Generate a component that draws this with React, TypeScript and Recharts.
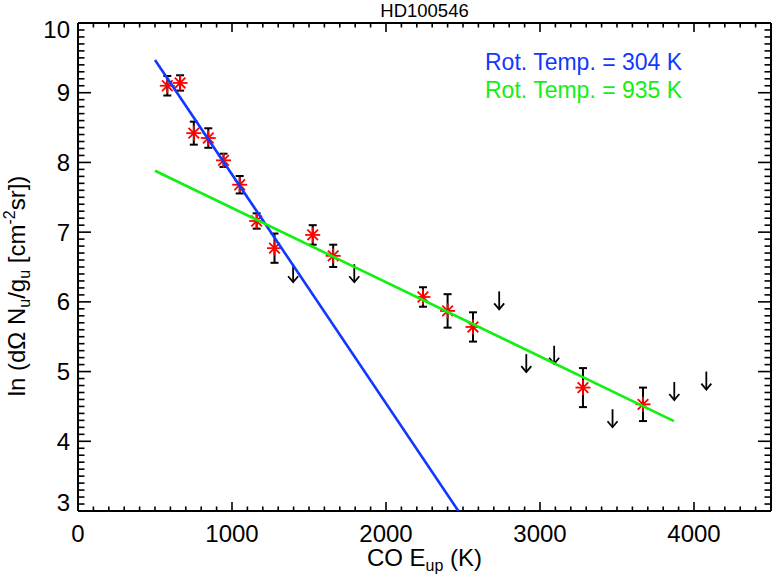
import React from 'react';
import { ScatterChart, Scatter, XAxis, YAxis, ErrorBar } from 'recharts';

const FONT = '"Liberation Sans", Arial, Helvetica, sans-serif';
const BLUE = '#1238ff';
const GREEN = '#12f012';
const RED = '#ff0000';

// Detected CO lines: upper-level energy (K), ln(dΩ Nu/gu), 1σ error
const detectionEup = [580, 663, 752, 846, 945, 1050, 1160, 1276, 1524, 1657, 2240, 2400, 2565, 3279, 3669];
const detectionLnN = [9.1, 9.14, 8.42, 8.35, 8.03, 7.68, 7.16, 6.77, 6.96, 6.66, 6.07, 5.87, 5.64, 4.77, 4.53];
const detectionErr = [0.14, 0.11, 0.165, 0.14, 0.095, 0.125, 0.11, 0.21, 0.14, 0.16, 0.14, 0.24, 0.21, 0.28, 0.24];

// Upper limits
const upperLimitEup = [1397, 1794, 2735, 2911, 3092, 3471, 3872, 4080];
const upperLimitLnN = [6.54, 6.54, 6.15, 5.25, 5.37, 4.46, 4.85, 5.0];

// Rotational-diagram fits
const coldFitEup = [500, 2470];
const coldFitLnN = [9.47, 3.0];
const warmFitEup = [500, 3870];
const warmFitLnN = [7.88, 4.29];

const title = 'HD100546';
const coldLabel = 'Rot. Temp. = 304 K';
const warmLabel = 'Rot. Temp. = 935 K';

const xDomain = [0, 4500];
const yDomain = [3, 10];
const xMajorTicks = [0, 1000, 2000, 3000, 4000];
const yMajorTicks = [3, 4, 5, 6, 7, 8, 9, 10];
const xMinorCount = 45; // every 100 K
const yMinorCount = 70; // every 0.1

const xAllTicks = Array.from({ length: xMinorCount + 1 }, (_, i) => i * 100);
const yAllTicks = Array.from({ length: yMinorCount + 1 }, (_, i) => Math.round(30 + i) / 10);

const detections = detectionEup.map((x, i) => ({ x, y: detectionLnN[i], err: detectionErr[i] }));
const upperLimits = upperLimitEup.map((x, i) => ({ x, y: upperLimitLnN[i] }));
const coldFit = coldFitEup.map((x, i) => ({ x, y: coldFitLnN[i] }));
const warmFit = warmFitEup.map((x, i) => ({ x, y: warmFitLnN[i] }));

const isMajor = (v: number, majors: number[]) => majors.some((m) => Math.abs(m - v) < 1e-6);

const TICK_W = 1.6;

const BottomTick = (props: any) => {
  const { x, y, payload } = props;
  const major = isMajor(payload.value, xMajorTicks);
  return (
    <g>
      <line x1={x} x2={x} y1={y} y2={y - (major ? 9 : 4.5)} stroke="#000" strokeWidth={TICK_W} />
      {major && (
        <text x={x} y={y + 31} textAnchor="middle" fontSize={24} fontFamily={FONT} fill="#000">
          {payload.value}
        </text>
      )}
    </g>
  );
};

const TopTick = (props: any) => {
  const { x, y, payload } = props;
  const major = isMajor(payload.value, xMajorTicks);
  return <line x1={x} x2={x} y1={y} y2={y + (major ? 9 : 4.5)} stroke="#000" strokeWidth={TICK_W} />;
};

const LeftTick = (props: any) => {
  const { x, y, payload } = props;
  const v = payload.value;
  const major = isMajor(v, yMajorTicks);
  let dy = 8.5;
  if (Math.abs(v - yDomain[1]) < 1e-6) dy = 15;
  if (Math.abs(v - yDomain[0]) < 1e-6) dy = 0;
  return (
    <g>
      <line x1={x} x2={x + (major ? 13 : 6.5)} y1={y} y2={y} stroke="#000" strokeWidth={TICK_W} />
      {major && (
        <text x={x - 8} y={y + dy} textAnchor="end" fontSize={24} fontFamily={FONT} fill="#000">
          {v}
        </text>
      )}
    </g>
  );
};

const RightTick = (props: any) => {
  const { x, y, payload } = props;
  const major = isMajor(payload.value, yMajorTicks);
  return <line x1={x} x2={x - (major ? 13 : 6.5)} y1={y} y2={y} stroke="#000" strokeWidth={TICK_W} />;
};

const Star = (props: any) => {
  const { cx, cy } = props;
  const r = 7.5;
  const d = r * 0.7071;
  return (
    <g stroke={RED} strokeWidth={1.8}>
      <line x1={cx - r} y1={cy} x2={cx + r} y2={cy} />
      <line x1={cx} y1={cy - r} x2={cx} y2={cy + r} />
      <line x1={cx - d} y1={cy - d} x2={cx + d} y2={cy + d} />
      <line x1={cx - d} y1={cy + d} x2={cx + d} y2={cy - d} />
    </g>
  );
};

const DownArrow = (props: any) => {
  const { cx, cy } = props;
  const len = 18;
  return (
    <g stroke="#000" strokeWidth={1.8} fill="none">
      <line x1={cx} y1={cy} x2={cx} y2={cy + len} />
      <polyline points={`${cx - 5},${cy + len - 6} ${cx},${cy + len} ${cx + 5},${cy + len - 6}`} />
    </g>
  );
};

const Empty = () => <g />;

export default function App() {
  const axisLine = { stroke: '#000', strokeWidth: 2 };
  return (
    <div style={{ position: 'absolute', left: 0, top: 0, width: 772, height: 579, background: '#fff' }}>
      <ScatterChart width={772} height={579} margin={{ top: 22, right: 0, bottom: 38, left: 28 }}>
        <XAxis
          xAxisId="b"
          orientation="bottom"
          type="number"
          dataKey="x"
          domain={xDomain}
          allowDataOverflow
          ticks={xAllTicks}
          interval={0}
          height={30}
          tickSize={0}
          tickMargin={0}
          tickLine={false}
          axisLine={axisLine}
          tick={BottomTick}
        />
        <XAxis
          xAxisId="t"
          orientation="top"
          type="number"
          dataKey="x"
          domain={xDomain}
          allowDataOverflow
          ticks={xAllTicks}
          interval={0}
          height={1}
          tickSize={0}
          tickMargin={0}
          tickLine={false}
          axisLine={axisLine}
          tick={TopTick}
        />
        <YAxis
          yAxisId="l"
          orientation="left"
          type="number"
          dataKey="y"
          domain={yDomain}
          allowDataOverflow
          ticks={yAllTicks}
          interval={0}
          width={50}
          tickSize={0}
          tickMargin={0}
          tickLine={false}
          axisLine={axisLine}
          tick={LeftTick}
        />
        <YAxis
          yAxisId="r"
          orientation="right"
          type="number"
          dataKey="y"
          domain={yDomain}
          allowDataOverflow
          ticks={yAllTicks}
          interval={0}
          width={1}
          tickSize={0}
          tickMargin={0}
          tickLine={false}
          axisLine={axisLine}
          tick={RightTick}
        />
        <Scatter xAxisId="b" yAxisId="l" data={detections} shape={Star} isAnimationActive={false} />
        <Scatter xAxisId="b" yAxisId="l" data={detections} shape={Empty} isAnimationActive={false}>
          <ErrorBar dataKey="err" direction="y" width={4} stroke="#000" strokeWidth={2} isAnimationActive={false} />
        </Scatter>
        <Scatter xAxisId="b" yAxisId="l" data={upperLimits} shape={DownArrow} isAnimationActive={false} />
        <Scatter
          xAxisId="b"
          yAxisId="l"
          data={coldFit}
          shape={Empty}
          fill={BLUE}
          line={{ stroke: BLUE, strokeWidth: 2.6 }}
          lineType="joint"
          isAnimationActive={false}
        />
        <Scatter
          xAxisId="b"
          yAxisId="l"
          data={warmFit}
          shape={Empty}
          fill={GREEN}
          line={{ stroke: GREEN, strokeWidth: 2.6 }}
          lineType="joint"
          isAnimationActive={false}
        />
      </ScatterChart>
      <svg
        width={772}
        height={579}
        style={{ position: 'absolute', left: 0, top: 0, pointerEvents: 'none' }}
        fontFamily={FONT}
      >
        <text x={424.5} y={17} textAnchor="middle" fontSize={18.5} fill="#000">
          {title}
        </text>
        <text x={485} y={70} fontSize={23} fill={BLUE}>
          {coldLabel}
        </text>
        <text x={485} y={98} fontSize={23} fill={GREEN}>
          {warmLabel}
        </text>
        <text x={424.5} y={566} textAnchor="middle" fontSize={24} fill="#000">
          CO E
          <tspan fontSize={16} dy={5}>up</tspan>
          <tspan dy={-5}> (K)</tspan>
        </text>
        <text transform="translate(25,286) rotate(-90)" textAnchor="middle" fontSize={24} fill="#000">
          ln (dΩ N
          <tspan fontSize={16} dy={5}>u</tspan>
          <tspan dy={-5}>/g</tspan>
          <tspan fontSize={16} dy={5}>u</tspan>
          <tspan dy={-5}> [cm</tspan>
          <tspan fontSize={16} dy={-10}>-2</tspan>
          <tspan dy={10}>sr])</tspan>
        </text>
      </svg>
    </div>
  );
}
